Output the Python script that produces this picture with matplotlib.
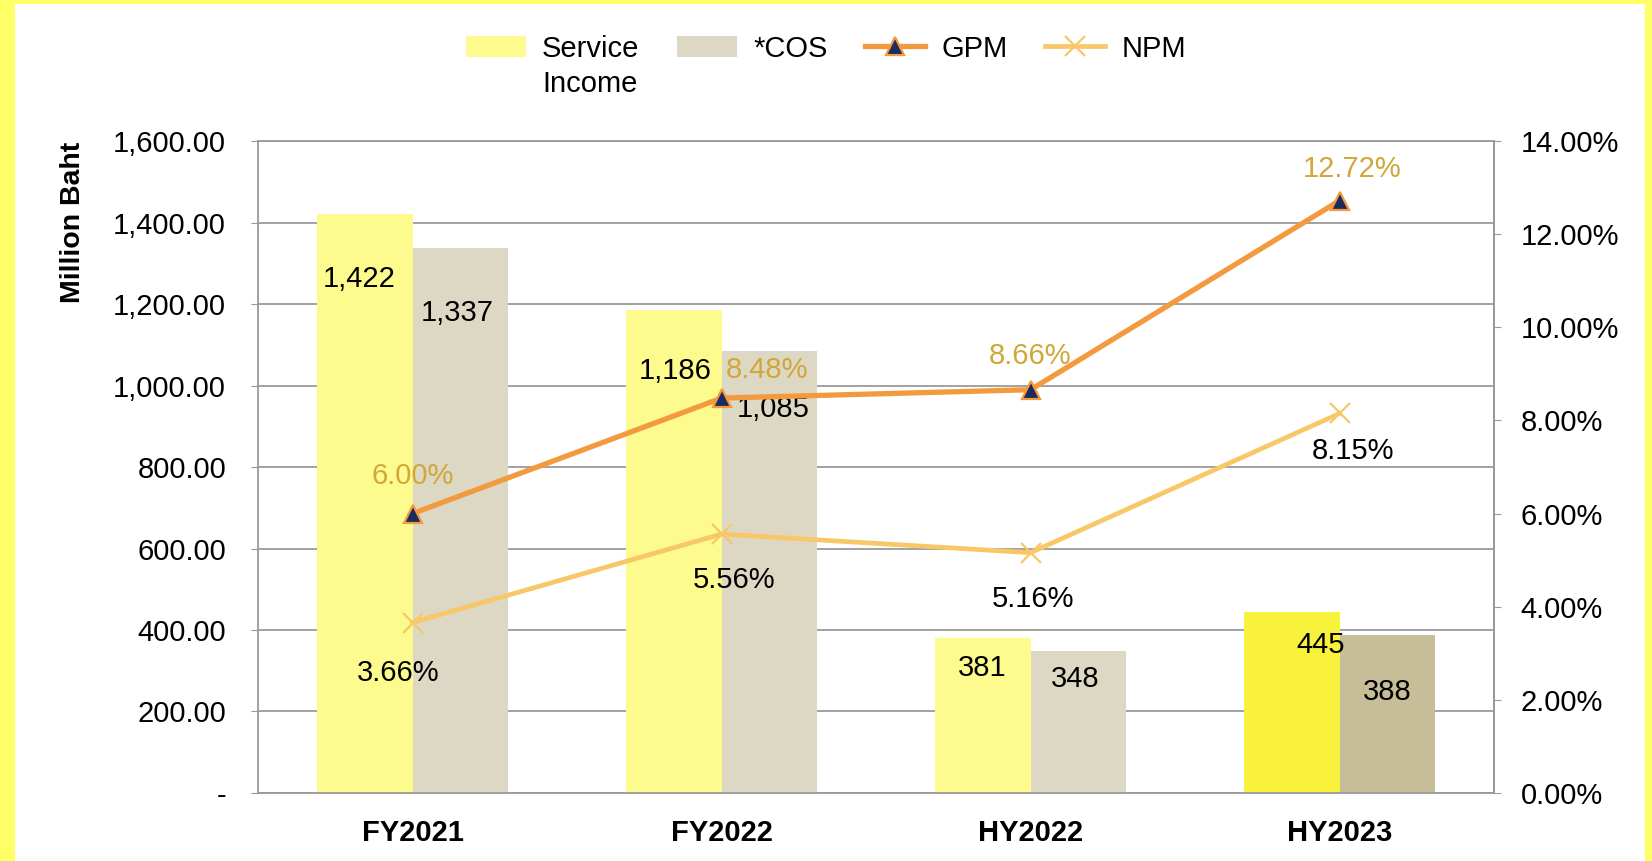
import numpy as np
import matplotlib
matplotlib.use("Agg")
import matplotlib.pyplot as plt
from matplotlib.patches import Rectangle
from matplotlib.ticker import FuncFormatter

plt.rcParams['font.family'] = ['Liberation Sans', 'DejaVu Sans']

# data
categories = ['FY2021', 'FY2022', 'HY2022', 'HY2023']
service_income = [1422, 1186, 381, 445]
cos = [1337, 1085, 348, 388]
gpm = [6.00, 8.48, 8.66, 12.72]
npm = [3.66, 5.56, 5.16, 8.15]

# label offsets in points (dx, dy)
si_off = [(-4, -47), (1, -44), (0, -22), (21, -24)]
cos_off = [(-2, -47), (3, -42), (-2, -20), (0, -41)]
gpm_off = [(0, 27), (33, 20), (0, 24), (9, 23)]
npm_off = [(-10, -36), (9, -33), (2, -33), (10, -27)]

si_colors = ['#FDFA8E', '#FDFA8E', '#FDFA8E', '#F9F23C']
cos_colors = ['#DDD8C3', '#DDD8C3', '#DDD8C3', '#C7BD98']

FS = 21

fig = plt.figure(figsize=(16.52, 8.61), dpi=100)
fig.patch.set_facecolor('#FFFF66')
# white panel inside the yellow border
fig.patches.append(Rectangle((15 / 1652, 0), (1652 - 15 - 7) / 1652, (861 - 4) / 861,
                             transform=fig.transFigure, facecolor='white',
                             edgecolor='none', zorder=-10))

ax = fig.add_axes([0.1562, 0.079, 0.7482, 0.7572])
ax.set_facecolor('white')
x = np.arange(len(categories))
w = 0.31

bars1 = ax.bar(x - w / 2, service_income, w, color=si_colors, zorder=2)
bars2 = ax.bar(x + w / 2, cos, w, color=cos_colors, zorder=2)

ax.set_xlim(-0.5, len(categories) - 0.5)
ax.set_ylim(0, 1600)
ax.set_yticks(np.arange(0, 1601, 200))
ax.yaxis.set_major_formatter(FuncFormatter(
    lambda v, p: '-' if v == 0 else f'{v:,.2f}'))
ax.grid(axis='y', color='#9A9A9A', linewidth=1.3, zorder=1)
ax.set_axisbelow(True)
ax.set_xticks(x)
ax.set_xticklabels(categories, fontsize=FS, fontweight='bold')
ax.tick_params(axis='x', length=0, pad=19)
ax.tick_params(axis='y', labelsize=FS, length=5, color='#9A9A9A', pad=18)
for s in ax.spines.values():
    s.set_color('#9A9A9A')
    s.set_linewidth(1.3)
ax.set_ylabel('Million Baht', fontsize=20.5, fontweight='bold',
              va='center', ha='center')
ax.yaxis.set_label_coords(-0.150, 0.875)

for i, v in enumerate(service_income):
    ax.annotate(f'{v:,}', (x[i] - w / 2, v), xytext=si_off[i],
                textcoords='offset points', ha='center', va='center',
                fontsize=FS, zorder=6)
for i, v in enumerate(cos):
    ax.annotate(f'{v:,}', (x[i] + w / 2, v), xytext=cos_off[i],
                textcoords='offset points', ha='center', va='center',
                fontsize=FS, zorder=6)

ax2 = ax.twinx()
ax2.set_ylim(0, 14)
ax2.set_yticks(np.arange(0, 14.1, 2))
ax2.yaxis.set_major_formatter(FuncFormatter(lambda v, p: f'{v:.2f}%'))
ax2.tick_params(axis='y', labelsize=FS, length=5, color='#9A9A9A', pad=14)
for s in ax2.spines.values():
    s.set_visible(False)
ax2.spines['right'].set_visible(True)
ax2.spines['right'].set_color('#9A9A9A')
ax2.spines['right'].set_linewidth(1.3)

l1, = ax2.plot(x, gpm, color='#F39A3E', linewidth=3.8, marker='^',
               markersize=13, markerfacecolor='#1A2B5F',
               markeredgecolor='#F39A3E', markeredgewidth=1.6, zorder=4)
l2, = ax2.plot(x, npm, color='#F8C767', linewidth=3.4, marker='x',
               markersize=14, markeredgewidth=1.6, zorder=3)

for i, v in enumerate(gpm):
    ax2.annotate(f'{v:.2f}%', (x[i], v), xytext=gpm_off[i],
                 textcoords='offset points', ha='center', va='center',
                 fontsize=FS, color='#D1A73A', zorder=6)
for i, v in enumerate(npm):
    ax2.annotate(f'{v:.2f}%', (x[i], v), xytext=npm_off[i],
                 textcoords='offset points', ha='center', va='center',
                 fontsize=FS, color='black', zorder=6)

handles = [bars1, bars2, l1, l2]
labels = ['Service', '*COS', 'GPM', 'NPM']
leg = fig.legend(handles, labels, loc='upper center',
                 bbox_to_anchor=(0.5, 0.99), ncol=4, frameon=False,
                 fontsize=FS, handlelength=2.05, handleheight=0.75,
                 columnspacing=1.3, handletextpad=0.55)

# second line of the first legend label
fig.canvas.draw()
bb = leg.get_texts()[0].get_window_extent().transformed(fig.transFigure.inverted())
fig.text(bb.x0, bb.y0 - 0.008, 'Income', fontsize=FS, ha='left', va='top')

fig.savefig('out.png', dpi=100, facecolor=fig.get_facecolor())
